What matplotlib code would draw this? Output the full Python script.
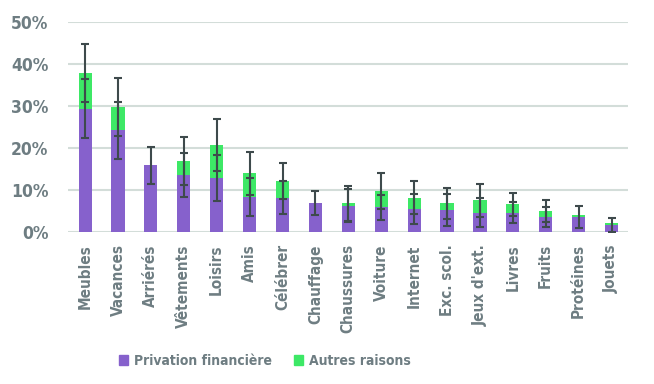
import matplotlib
matplotlib.use("Agg")
import matplotlib.pyplot as plt
import numpy as np
from matplotlib.ticker import FuncFormatter
from matplotlib.patches import Patch

categories = ["Meubles", "Vacances", "Arriérés", "Vêtements", "Loisirs", "Amis", "Célébrer",
              "Chauffage", "Chaussures", "Voiture", "Internet", "Exc. scol.", "Jeux d'ext.",
              "Livres", "Fruits", "Protéines", "Jouets"]
privation = [29.4, 24.2, 15.9, 13.6, 12.9, 8.3, 8.1, 6.8, 6.2, 5.8, 5.5, 5.2, 4.5, 4.5, 3.5, 3.6, 1.6]
autres = [8.5, 5.6, 0.0, 3.3, 7.8, 5.6, 4.0, 0.0, 0.6, 3.9, 2.6, 1.6, 3.0, 2.0, 1.4, 0.3, 0.4]
err_privation = [7.0, 6.8, 4.4, 5.25, 5.5, 4.6, 3.9, 2.9, 4.0, 3.0, 3.6, 3.75, 3.45, 2.5, 2.3, 2.65, 1.7]
err_total = [7.0, 7.0, 0.0, 5.7, 6.2, 5.1, 4.2, 0.0, 4.2, 4.2, 3.95, 3.65, 3.9, 2.75, 2.6, 0.0, 0.0]

purple = "#8661CC"
green = "#3DE866"
err_color = "#3E4A4C"
text_color = "#6E7D82"
grid_color = "#D3DDD9"

plt.rcParams['font.family'] = ['DejaVu Sans']
plt.rcParams['font.stretch'] = 'condensed'

fig = plt.figure(figsize=(6.54, 3.84), dpi=100)
ax = fig.add_axes([68/654, 1 - 231.7/384, (628-68)/654, (231.7-22.3)/384])

x = np.arange(len(categories))
priv = np.array(privation)
tot = priv + np.array(autres)
w = 0.4
ax.bar(x, priv, width=w, color=purple, zorder=2)
ax.bar(x, autres, width=w, bottom=priv, color=green, zorder=2)

ep = np.array(err_privation)
et = np.array(err_total)
mask_p = ep > 0
mask_t = et > 0
ax.errorbar(x[mask_p], priv[mask_p], yerr=ep[mask_p], fmt='none', ecolor=err_color,
            elinewidth=1.5, capsize=3, capthick=1.5, zorder=3)
ax.errorbar(x[mask_t], tot[mask_t], yerr=et[mask_t], fmt='none', ecolor=err_color,
            elinewidth=1.5, capsize=3, capthick=1.5, zorder=3)

ax.set_xlim(-0.52, 16.5)
ax.set_ylim(0, 50)
ax.set_yticks([0, 10, 20, 30, 40, 50])
ax.yaxis.set_major_formatter(FuncFormatter(lambda v, p: f"{int(v)}%"))
ax.grid(axis='y', color=grid_color, linewidth=1.5, zorder=0)
ax.set_axisbelow(True)
for s in ax.spines.values():
    s.set_visible(False)
ax.tick_params(axis='both', length=0)
ax.tick_params(axis='y', labelsize=12.5, labelcolor=text_color, pad=14)
ax.tick_params(axis='x', labelsize=11, labelcolor=text_color, pad=9)
for lbl in ax.get_yticklabels():
    lbl.set_fontweight('bold')
ax.set_xticks(x)
ax.set_xticklabels(categories, rotation=90, fontweight='bold')

handles = [Patch(color=purple, label="Privation financière"), Patch(color=green, label="Autres raisons")]
leg = fig.legend(handles=handles, loc='center', bbox_to_anchor=(265/654, 1 - 361/384), ncol=2,
                 frameon=False, prop={'size': 10, 'weight': 'bold'}, handlelength=0.65,
                 handleheight=0.65, columnspacing=1.6, handletextpad=0.4)
for t in leg.get_texts():
    t.set_color(text_color)

fig.savefig("out.png", dpi=100)
